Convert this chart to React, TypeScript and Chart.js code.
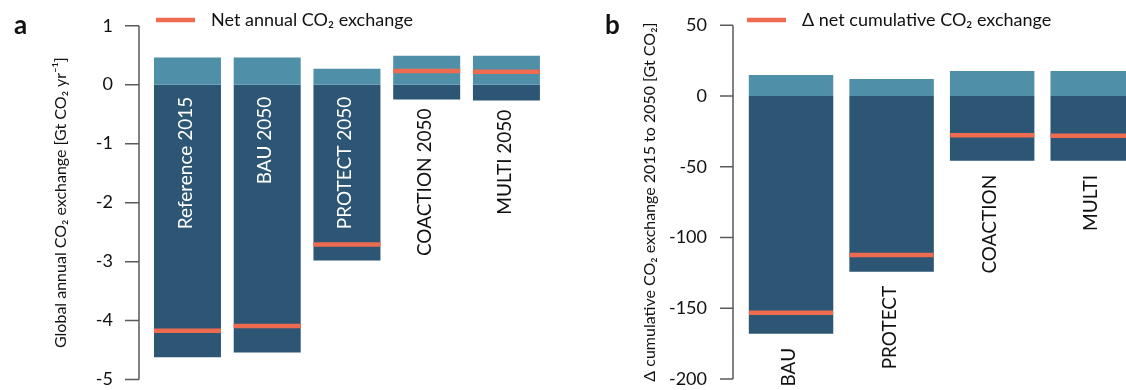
import React, { useEffect, useRef } from 'react';
import { Chart, registerables } from 'chart.js';

Chart.register(...registerables);

const FONT = 'Lato, "Noto Sans", sans-serif';
const LIGHT = '#4F8FA8';
const DARK = '#2C5674';
const RED = '#EE6B50';
const INK = '#111111';

// Panel a: global annual CO2 exchange [Gt CO2 / yr]
const categoriesA = ['Reference 2015', 'BAU 2050', 'PROTECT 2050', 'COACTION 2050', 'MULTI 2050'];
const uptakeA = [0.46, 0.46, 0.27, 0.49, 0.49];
const emissionsA = [-4.62, -4.54, -2.98, -0.25, -0.27];
const netA = [-4.17, -4.09, -2.71, 0.23, 0.22];
const ticksA = [1, 0, -1, -2, -3, -4, -5];

// Panel b: delta cumulative CO2 exchange 2015 to 2050 [Gt CO2]
const categoriesB = ['BAU', 'PROTECT', 'COACTION', 'MULTI'];
const uptakeB = [14.9, 12.0, 17.7, 17.7];
const emissionsB = [-168.1, -124.2, -45.8, -45.8];
const netB = [-153.2, -112.4, -27.8, -28.0];
const ticksB = [50, 0, -50, -100, -150, -200];

const decorPlugin = {
  id: 'decor',
  afterDraw(chart: any, _args: any, opts: any) {
    const ctx = chart.ctx;
    const y = chart.scales.y;
    const area = chart.chartArea;
    ctx.save();
    // detached y axis spine with outward ticks
    const ax = area.left - opts.axisGap;
    const px = y.ticks.map((t: any) => y.getPixelForValue(t.value));
    ctx.strokeStyle = '#5a5a5a';
    ctx.lineWidth = 1.5;
    ctx.beginPath();
    ctx.moveTo(ax, Math.min(...px));
    ctx.lineTo(ax, Math.max(...px));
    px.forEach((p: number) => {
      ctx.moveTo(ax - opts.tickLen, p);
      ctx.lineTo(ax, p);
    });
    ctx.stroke();

    // rotated category labels
    const meta = chart.getDatasetMeta(1);
    ctx.font = `${opts.labelSize}px ${FONT}`;
    meta.data.forEach((bar: any, i: number) => {
      const label = chart.data.labels[i];
      const w = ctx.measureText(label).width;
      const zero = bar.base;
      const bottom = bar.y;
      const inside = opts.allowInside && bottom - zero > w + 2 * opts.insideGap;
      const endY = inside ? zero + opts.insideGap : bottom + opts.outsideGap;
      ctx.save();
      ctx.translate(bar.x + opts.labelShift, endY);
      ctx.rotate(-Math.PI / 2);
      ctx.textAlign = 'right';
      ctx.textBaseline = 'middle';
      ctx.fillStyle = inside ? '#ffffff' : INK;
      ctx.fillText(label, 0, 0);
      ctx.restore();
    });

    // legend
    ctx.strokeStyle = RED;
    ctx.lineWidth = 4.5;
    ctx.beginPath();
    ctx.moveTo(opts.legendX, 20);
    ctx.lineTo(opts.legendX + 39, 20);
    ctx.stroke();
    ctx.font = `18px ${FONT}`;
    ctx.fillStyle = INK;
    ctx.textAlign = 'left';
    ctx.textBaseline = 'alphabetic';
    ctx.fillText(chart.data.datasets[2].label, opts.legendX + 55, 25.5);

    // panel letter
    ctx.font = `bold 26px ${FONT}`;
    ctx.fillText(opts.letter, opts.letterX, 34);
    ctx.restore();
  },
};

function makeConfig(p: any): any {
  return {
    data: {
      labels: p.categories,
      datasets: [
        { type: 'bar', label: 'uptake', data: p.uptake, backgroundColor: LIGHT, barPercentage: 0.84, categoryPercentage: 1, grouped: false, order: 2 },
        { type: 'bar', label: 'emissions', data: p.emissions, backgroundColor: DARK, barPercentage: 0.84, categoryPercentage: 1, grouped: false, order: 2 },
        {
          type: 'line', label: p.netLabel, data: p.net, showLine: false, pointStyle: 'line',
          pointRadius: p.netRadius, pointHoverRadius: p.netRadius, pointBorderWidth: 4.5, borderColor: RED,
          pointBorderColor: RED, backgroundColor: RED, order: 0, clip: false,
        },
      ],
    },
    options: {
      responsive: false,
      animation: false,
      events: [],
      layout: { padding: p.padding, autoPadding: false },
      plugins: {
        legend: { display: false },
        tooltip: { enabled: false },
        decor: p.decor,
      },
      scales: {
        x: { type: 'category', display: false, offset: true, grid: { display: false } },
        y: {
          min: p.min,
          max: p.max,
          afterBuildTicks: (s: any) => { s.ticks = p.ticks.map((v: number) => ({ value: v })); },
          afterFit: (s: any) => {
            s.width = p.axisWidth;
            s.paddingTop = 0;
            s.paddingBottom = 0;
          },
          grid: { display: false, drawTicks: false },
          border: { display: false },
          ticks: { padding: p.tickPad, font: { family: FONT, size: 18 }, color: INK },
          title: {
            display: true, text: p.title, color: INK,
            font: { family: FONT, size: p.titleSize, lineHeight: 1.2 },
            padding: { top: p.titleCenter - p.titleSize * 0.6, bottom: 0 },
          },
        },
      },
    },
    plugins: [decorPlugin],
  };
}

export default function App() {
  const refA = useRef<HTMLCanvasElement>(null);
  const refB = useRef<HTMLCanvasElement>(null);

  useEffect(() => {
    const a = new Chart(refA.current as HTMLCanvasElement, makeConfig({
      categories: categoriesA, uptake: uptakeA, emissions: emissionsA, net: netA, ticks: ticksA,
      netLabel: 'Net annual CO₂ exchange', netRadius: 33.5,
      min: -5, max: 1, axisWidth: 147.6, tickPad: 34.6, titleCenter: 61, titleSize: 16,
      title: 'Global annual CO₂ exchange [Gt CO₂ yr⁻¹]',
      padding: { left: 0, right: 16.7, top: 25.7, bottom: 10.4 },
      decor: { axisGap: 8.6, tickLen: 14, labelSize: 19, allowInside: true, insideGap: 12, outsideGap: 9, labelShift: -2, legendX: 156, letter: 'a', letterX: 14 },
    }));
    const b = new Chart(refB.current as HTMLCanvasElement, makeConfig({
      categories: categoriesB, uptake: uptakeB, emissions: emissionsB, net: netB, ticks: ticksB,
      netLabel: 'Δ net cumulative CO₂ exchange', netRadius: 42,
      min: -200, max: 50, axisWidth: 177.75, tickPad: 33.75, titleCenter: 87, titleSize: 16,
      title: 'Δ cumulative CO₂ exchange 2015 to 2050 [Gt CO₂]',
      padding: { left: 0, right: 17, top: 25.3, bottom: 11 },
      decor: { axisGap: 7.75, tickLen: 13, labelSize: 19, allowInside: false, insideGap: 12, outsideGap: 14, labelShift: -2, legendX: 184, letter: 'b', letterX: 42 },
    }));
    return () => { a.destroy(); b.destroy(); };
  }, []);

  return (
    <div style={{ position: 'fixed', left: 0, top: 0, width: 1126, height: 390, overflow: 'hidden', background: '#fff' }}>
      <canvas ref={refA} width={563} height={390} style={{ position: 'absolute', left: 0, top: 0, width: 563, height: 390 }} />
      <canvas ref={refB} width={597} height={390} style={{ position: 'absolute', left: 563, top: 0, width: 597, height: 390 }} />
    </div>
  );
}
